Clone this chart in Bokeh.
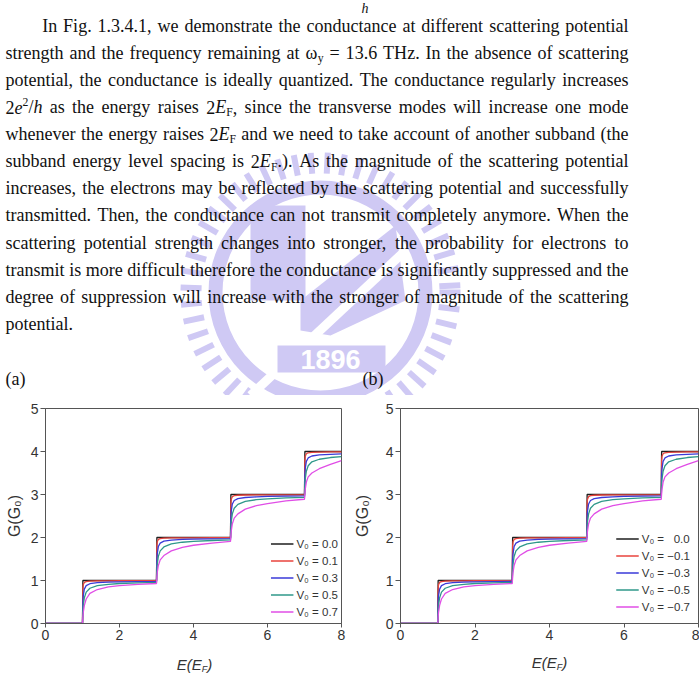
import math
from bokeh.plotting import figure
from bokeh.models import Range1d, Legend, LegendItem, ColumnDataSource, FixedTicker
from bokeh.layouts import column, row
from bokeh.embed import file_html
from bokeh.resources import INLINE
from bokeh.core.properties import value

# ---------------- data ----------------
E = [0, 1, 1.01, 1.02, 1.05, 1.1, 1.2, 1.4, 1.7, 2, 2.5,
     3, 3.01, 3.02, 3.05, 3.1, 3.2, 3.4, 3.7, 4, 4.5,
     5, 5.01, 5.02, 5.05, 5.1, 5.2, 5.4, 5.7, 6, 6.5,
     7, 7.01, 7.02, 7.05, 7.1, 7.2, 7.4, 7.7, 8]

# panel (a): V0 = 0.0, 0.1, 0.3, 0.5, 0.7
a_v00 = [0, 0, 1, 1, 1, 1, 1, 1, 1, 1, 1,
         1, 2, 2, 2, 2, 2, 2, 2, 2, 2,
         2, 3, 3, 3, 3, 3, 3, 3, 3, 3,
         3, 4, 4, 4, 4, 4, 4, 4, 4]
a_v01 = [0, 0, 0.82, 0.9, 0.955, 0.975, 0.985, 0.99, 0.993, 0.994, 0.995,
         0.996, 1.81, 1.9, 1.955, 1.975, 1.985, 1.99, 1.992, 1.993, 1.994,
         1.995, 2.8, 2.89, 2.95, 2.972, 2.983, 2.988, 2.99, 2.992, 2.993,
         2.994, 3.8, 3.89, 3.948, 3.97, 3.98, 3.986, 3.99, 3.992]
a_v03 = [0, 0, 0.5, 0.64, 0.8, 0.88, 0.925, 0.95, 0.962, 0.97, 0.976,
         0.98, 1.48, 1.62, 1.79, 1.87, 1.915, 1.94, 1.955, 1.963, 1.97,
         1.975, 2.47, 2.61, 2.78, 2.86, 2.905, 2.93, 2.945, 2.955, 2.962,
         2.968, 3.46, 3.6, 3.77, 3.85, 3.895, 3.92, 3.935, 3.945]
a_v05 = [0, 0, 0.3, 0.42, 0.6, 0.73, 0.82, 0.88, 0.91, 0.93, 0.945,
         0.955, 1.25, 1.38, 1.56, 1.69, 1.78, 1.85, 1.89, 1.91, 1.93,
         1.945, 2.24, 2.37, 2.55, 2.68, 2.77, 2.84, 2.88, 2.9, 2.92,
         2.935, 3.23, 3.36, 3.54, 3.67, 3.76, 3.82, 3.86, 3.88]
a_v07 = [0, 0, 0.15, 0.25, 0.42, 0.57, 0.7, 0.79, 0.85, 0.88, 0.91,
         0.93, 1.08, 1.18, 1.35, 1.48, 1.58, 1.69, 1.77, 1.82, 1.87,
         1.91, 2.05, 2.15, 2.32, 2.45, 2.55, 2.66, 2.74, 2.79, 2.85,
         2.89, 3.02, 3.12, 3.29, 3.41, 3.5, 3.6, 3.7, 3.79]

# panel (b): V0 = 0.0, -0.1, -0.3, -0.5, -0.7
b_v00 = [0, 0, 1, 1, 1, 1, 1, 1, 1, 1, 1,
         1, 2, 2, 2, 2, 2, 2, 2, 2, 2,
         2, 3, 3, 3, 3, 3, 3, 3, 3, 3,
         3, 4, 4, 4, 4, 4, 4, 4, 4]
b_m01 = [0, 0, 0.8, 0.9, 0.955, 0.975, 0.985, 0.99, 0.993, 0.994, 0.995,
         0.996, 1.8, 1.9, 1.955, 1.975, 1.985, 1.99, 1.992, 1.993, 1.994,
         1.995, 2.8, 2.89, 2.95, 2.972, 2.983, 2.988, 2.99, 2.992, 2.993,
         2.994, 3.8, 3.89, 3.948, 3.97, 3.98, 3.986, 3.99, 3.992]
b_m03 = [0, 0, 0.5, 0.64, 0.8, 0.88, 0.925, 0.95, 0.962, 0.97, 0.976,
         0.98, 1.48, 1.62, 1.79, 1.87, 1.915, 1.94, 1.955, 1.963, 1.97,
         1.975, 2.47, 2.61, 2.78, 2.86, 2.905, 2.93, 2.945, 2.955, 2.962,
         2.968, 3.46, 3.6, 3.77, 3.85, 3.895, 3.92, 3.935, 3.945]
b_m05 = [0, 0, 0.3, 0.42, 0.6, 0.73, 0.82, 0.88, 0.91, 0.93, 0.945,
         0.955, 1.25, 1.38, 1.56, 1.69, 1.78, 1.85, 1.89, 1.91, 1.93,
         1.945, 2.24, 2.37, 2.55, 2.68, 2.77, 2.84, 2.88, 2.9, 2.92,
         2.935, 3.23, 3.36, 3.54, 3.67, 3.76, 3.82, 3.86, 3.88]
b_m07 = [0, 0, 0.15, 0.25, 0.42, 0.57, 0.7, 0.79, 0.85, 0.88, 0.91,
         0.93, 1.08, 1.18, 1.35, 1.48, 1.58, 1.69, 1.77, 1.82, 1.87,
         1.91, 2.05, 2.15, 2.32, 2.45, 2.55, 2.66, 2.74, 2.79, 2.85,
         2.89, 3.02, 3.12, 3.29, 3.41, 3.5, 3.6, 3.7, 3.79]

legend_a = ["V\u2080 = 0.0", "V\u2080 = 0.1", "V\u2080 = 0.3", "V\u2080 = 0.5", "V\u2080 = 0.7"]
legend_b = ["V\u2080 = \u20070.0", "V\u2080 = \u22120.1", "V\u2080 = \u22120.3",
            "V\u2080 = \u22120.5", "V\u2080 = \u22120.7"]
x_ticks = [0, 2, 4, 6, 8]
y_ticks = [0, 1, 2, 3, 4, 5]
y_title = "G(G\u2080)"
x_title = [("E(E", "main"), ("F", "sub"), (")", "main")]

para_lines = [
    "In Fig. 1.3.4.1, we demonstrate the conductance at different scattering potential",
    "strength and the frequency remaining at \u03c9_{y} = 13.6 THz. In the absence of scattering",
    "potential, the conductance is ideally quantized. The conductance regularly increases",
    "2*e*^{2}/*h* as the energy raises 2*E*_{F}, since the transverse modes will increase one mode",
    "whenever the energy raises 2*E*_{F} and we need to take account of another subband (the",
    "subband energy level spacing is 2*E*_{F}.). As the magnitude of the scattering potential",
    "increases, the electrons may be reflected by the scattering potential and successfully",
    "transmitted. Then, the conductance can not transmit completely anymore. When the",
    "scattering potential strength changes into stronger, the probability for electrons to",
    "transmit is more difficult therefore the conductance is significantly suppressed and the",
    "degree of suppression will increase with the stronger of magnitude of the scattering",
    "potential.",
]
captions = ["(a)", "(b)"]
watermark_year = "1896"

# ---------------- styles ----------------
COLORS = ["#1e1e1e", "#e8433d", "#3a3ad8", "#2f988a", "#e04ee6"]
AXC = "#555555"
TXT = "#333333"
SANS = "Liberation Sans"
SERIF = "Liberation Serif"
LAV = "#cfc9f4"
MID = 0.3  # em distance from baseline to the em-box middle

# ---------------- page text (justified) ----------------
TW = {' ': 250, '!': 333, '(': 333, ')': 333, ',': 250, '-': 333, '.': 250, '/': 278,
      ':': 278, ';': 278, '=': 564, '\u03c9': 686}
for ch in "0123456789":
    TW[ch] = 500
TW.update(dict(zip("ABCDEFGHIJKLMNOPQRSTUVWXYZ",
                   [722, 667, 667, 722, 611, 556, 722, 722, 333, 389, 722, 611, 889,
                    722, 722, 556, 722, 667, 556, 611, 722, 722, 944, 722, 722, 611])))
TW.update(dict(zip("abcdefghijklmnopqrstuvwxyz",
                   [444, 500, 444, 500, 444, 333, 500, 500, 278, 278, 500, 278, 778,
                    500, 500, 500, 500, 333, 389, 278, 500, 500, 722, 500, 500, 444])))
SUBSCALE = 0.65


def parse_word(w):
    runs, buf, i = [], "", 0
    while i < len(w):
        c = w[i]
        if c == "*":
            if buf:
                runs.append((buf, "n")); buf = ""
            j = w.index("*", i + 1)
            runs.append((w[i + 1:j], "i")); i = j + 1
        elif c in "_^" and i + 1 < len(w) and w[i + 1] == "{":
            if buf:
                runs.append((buf, "n")); buf = ""
            j = w.index("}", i)
            runs.append((w[i + 2:j], "sub" if c == "_" else "sup")); i = j + 1
        else:
            buf += c; i += 1
    if buf:
        runs.append((buf, "n"))
    return runs


def run_em(txt, kind):
    s = sum(TW.get(ch, 500) for ch in txt) / 1000.0
    return s * (SUBSCALE if kind in ("sub", "sup") else 1.0)


LEFTS = [41.7] + [5.0] * (len(para_lines) - 1)
RIGHT = 628.0
MID0, LEAD = 25.2, 27.1   # vertical middle of the first line, line pitch

parsed = [[parse_word(w) for w in ln.split(" ")] for ln in para_lines]
word_em = [[sum(run_em(t, k) for t, k in wd) for wd in ln] for ln in parsed]
fs = min((RIGHT - LEFTS[i]) / (sum(word_em[i]) + 0.25 * (len(word_em[i]) - 1))
         for i in range(len(parsed) - 1))

tx, ty, tt, tsize, tstyle = [], [], [], [], []
for i, ln in enumerate(parsed):
    base = MID0 + LEAD * i + MID * fs
    widths = [w * fs for w in word_em[i]]
    if i < len(parsed) - 1 and len(ln) > 1:
        gap = (RIGHT - LEFTS[i] - sum(widths)) / (len(ln) - 1)
    else:
        gap = 0.25 * fs
    x = LEFTS[i]
    for wd, wdt in zip(ln, widths):
        xx = x
        for t, k in wd:
            size = fs * (SUBSCALE if k in ("sub", "sup") else 1.0)
            rb = base + (0.22 * fs if k == "sub" else (-0.38 * fs if k == "sup" else 0.0))
            tx.append(xx); ty.append(rb - MID * size); tt.append(t)
            tsize.append("%.2fpx" % size)
            tstyle.append("italic" if k == "i" else "normal")
            xx += run_em(t, k) * fs
        x += wdt + gap

# fragment of the preceding equation, panel captions
tx += [361, 5, 362]
ty += [8, 378, 378]
tt += ["h", captions[0], captions[1]]
tsize += ["14px", "%.2fpx" % fs, "%.2fpx" % fs]
tstyle += ["italic", "normal", "normal"]

PAGE_H = 395
page = figure(width=699, height=PAGE_H, x_range=Range1d(0, 699), y_range=Range1d(PAGE_H, 0),
              output_backend="svg", toolbar_location=None, min_border=0,
              x_axis_location=None, y_axis_location=None)
page.grid.visible = False
page.outline_line_color = None
page.background_fill_color = "white"
page.border_fill_color = "white"

# ---- faint emblem watermark (decoration behind the text) ----
CX, CY = 320.0, 292.0
angs = [math.radians(a) for a in range(0, 360, 7)]
page.segment(x0=[CX + 119 * math.cos(a) for a in angs], y0=[CY + 119 * math.sin(a) for a in angs],
             x1=[CX + 140 * math.cos(a) for a in angs], y1=[CY + 140 * math.sin(a) for a in angs],
             line_color=LAV, line_width=6)
page.annulus(x=[CX], y=[CY], inner_radius=98, outer_radius=112, fill_color=LAV, line_color=None)
page.quad(left=[250], right=[305], top=[205], bottom=[300], fill_color=LAV, line_color=None)
page.patch(x=[300, 395, 405, 330, 300], y=[300, 225, 300, 335, 330], fill_color=LAV,
           line_color=None)
page.segment(x0=[250], y0=[395], x1=[405], y1=[250], line_color="white", line_width=9)
page.rect(x=[331], y=[358.5], width=[108], height=[27], fill_color=LAV, line_color=None)
page.text(x=[330], y=[359], text=[watermark_year], text_font=value(SANS),
          text_font_size="27px", text_font_style="bold", text_color="white",
          text_align="center", text_baseline="middle")

src = ColumnDataSource(dict(x=tx, y=ty, text=tt, size=tsize, style=tstyle))
page.text(x="x", y="y", text="text", source=src, text_font=value(SERIF),
          text_font_size="size", text_font_style="style", text_color="#111111",
          text_align="left", text_baseline="middle")

CH_H = 260  # charts occupy page rows 395..655


# ---------------- charts ----------------
def chart(width, bl, br, bt, fh, series, labels, dots, ylab_standoff, leg_margin):
    p = figure(width=width, height=CH_H, x_range=Range1d(0, 8), y_range=Range1d(0, 5),
               output_backend="svg", toolbar_location=None,
               min_border_left=bl, min_border_right=br, min_border_top=bt,
               min_border_bottom=CH_H - bt - fh)
    p.grid.visible = False
    p.outline_line_color = AXC
    p.outline_line_width = 1
    p.background_fill_color = "white"
    p.border_fill_color = "white"
    for ax in (p.xaxis[0], p.yaxis[0]):
        ax.axis_line_color = AXC
        ax.major_tick_line_color = AXC
        ax.minor_tick_line_color = None
        ax.major_tick_in = 0
        ax.major_tick_out = 4
        ax.major_label_text_font = SANS
        ax.major_label_text_font_size = "14px"
        ax.major_label_text_color = TXT
        ax.major_label_standoff = 2
    p.yaxis[0].major_tick_out = 5
    p.xaxis.ticker = FixedTicker(ticks=x_ticks)
    p.yaxis.ticker = FixedTicker(ticks=y_ticks)
    p.yaxis.axis_label = y_title
    p.yaxis.axis_label_text_font = SANS
    p.yaxis.axis_label_text_font_size = "16px"
    p.yaxis.axis_label_text_font_style = "normal"
    p.yaxis.axis_label_text_color = TXT
    p.yaxis.axis_label_standoff = ylab_standoff

    items = []
    for G, col, lab, dot in zip(series, COLORS, labels, dots):
        r = p.line(E, G, line_color=col, line_width=1.3)
        rs = [r]
        if dot:
            rs.append(p.scatter(x=[], y=[], size=3, color=col))
        items.append(LegendItem(label=lab, renderers=rs))
    leg = Legend(items=items, location="bottom_right")
    leg.border_line_color = None
    leg.background_fill_alpha = 0
    leg.label_text_font = SANS
    leg.label_text_font_size = "11.5px"
    leg.label_text_color = TXT
    leg.glyph_width = 23
    leg.glyph_height = 17
    leg.label_height = 17
    leg.spacing = 0
    leg.padding = 2
    leg.margin = leg_margin
    leg.label_standoff = 3
    p.add_layout(leg)
    return p


pa = chart(350, 45, 9, 13, 219, [a_v00, a_v01, a_v03, a_v05, a_v07], legend_a,
           [False, True, True, True, True], 5, 3)
pb = chart(349, 50, 1, 10, 218, [b_v00, b_m01, b_m03, b_m05, b_m07], legend_b,
           [True, True, True, True, True], 12, 8)

# ---------------- strip with the x-axis titles E(E_F) ----------------
STRIP_H = 673 - PAGE_H - CH_H
strip = figure(width=699, height=STRIP_H, x_range=Range1d(0, 699), y_range=Range1d(STRIP_H, 0),
               output_backend="svg", toolbar_location=None, min_border=0,
               x_axis_location=None, y_axis_location=None)
strip.grid.visible = False
strip.outline_line_color = None
strip.border_fill_color = "white"
strip.background_fill_color = "white"

MAIN_PX, SUB_PX = 15.0, 9.0
SW = {"E": 0.667, "(": 0.333, ")": 0.333, "F": 0.611}
sx, sy, st, ssz = [], [], [], []
for center, base in ((194.0, 13.0), (549.0, 11.0)):   # baselines within the strip
    total = sum(sum(SW[c] for c in t) * (MAIN_PX if k == "main" else SUB_PX)
                for t, k in x_title)
    x = center - total / 2
    for t, k in x_title:
        px = MAIN_PX if k == "main" else SUB_PX
        rb = base + (3.5 if k == "sub" else 0.0)
        sx.append(x); sy.append(rb - MID * px); st.append(t)
        ssz.append("%dpx" % px)
        x += sum(SW[c] for c in t) * px
strip.text(x="x", y="y", text="text", source=ColumnDataSource(dict(x=sx, y=sy, text=st, size=ssz)),
           text_font=value(SANS), text_font_size="size", text_font_style="italic",
           text_color=TXT, text_align="left", text_baseline="middle")

layout = column(page, row(pa, pb, spacing=0), strip, spacing=0)
open("out.html", "w").write(file_html(layout, INLINE))
